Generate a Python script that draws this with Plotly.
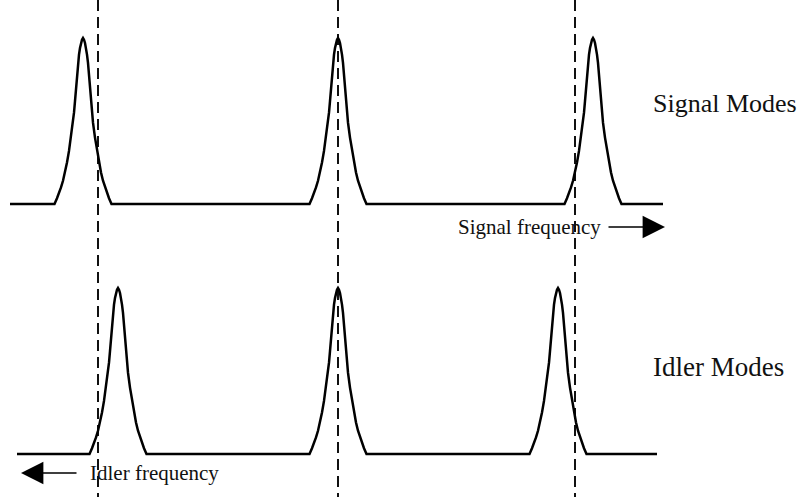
import plotly.graph_objects as go

# Diagram coordinates (x: left->right, y: top->bottom, 811 x 497 canvas)
signal_centers = [83, 338, 593]
idler_centers = [118, 338, 558]
dashed_x = [98, 338, 575]

signal_baseline = 204
idler_baseline = 454
peak_height = 166

signal_span = [10, 663]
idler_span = [17, 657]

# Mode line-shape: (offset from centre, relative height)
profile_offsets = [0, 1, 2, 3, 4, 5, 6, 7, 8, 9, 10, 12, 14, 16, 18, 20, 22, 24, 26, 28.5]
profile_heights = [1.0, 0.99, 0.97, 0.94, 0.9, 0.85, 0.78, 0.7, 0.62, 0.55, 0.49,
                   0.40, 0.32, 0.25, 0.19, 0.14, 0.10, 0.065, 0.035, 0.0]

labels = {"signal": "Signal Modes", "idler": "Idler Modes"}
axis_labels = {"signal": "Signal frequency", "idler": "Idler frequency"}


def comb(centers, baseline, span):
    xs, ys = [span[0]], [baseline]
    for c in centers:
        for d, h in zip(reversed(profile_offsets), reversed(profile_heights)):
            xs.append(c - d); ys.append(baseline - h * peak_height)
        for d, h in zip(profile_offsets[1:], profile_heights[1:]):
            xs.append(c + d); ys.append(baseline - h * peak_height)
    xs.append(span[1]); ys.append(baseline)
    return xs, ys


fig = go.Figure()
for centers, base, span in [(signal_centers, signal_baseline, signal_span),
                            (idler_centers, idler_baseline, idler_span)]:
    xs, ys = comb(centers, base, span)
    fig.add_trace(go.Scatter(x=xs, y=ys, mode="lines",
                             line=dict(color="black", width=2.5, shape="linear"),
                             hoverinfo="skip", showlegend=False))

for x in dashed_x:
    fig.add_shape(type="line", x0=x, x1=x, y0=0, y1=497, xref="x", yref="y",
                  line=dict(color="#111", width=2, dash="11px,6px"), layer="below")

serif = "Liberation Serif, Times New Roman, serif"
fig.add_annotation(x=651, y=103, text=labels["signal"], showarrow=False, xanchor="left",
                   yanchor="middle", font=dict(family=serif, size=26, color="#111"))
fig.add_annotation(x=651, y=367, text=labels["idler"], showarrow=False, xanchor="left",
                   yanchor="middle", font=dict(family=serif, size=27, color="#111"))
fig.add_annotation(x=603, y=227, text=axis_labels["signal"], showarrow=False, xanchor="right",
                   yanchor="middle", font=dict(family=serif, size=21, color="#111"))
fig.add_annotation(x=88, y=473, text=axis_labels["idler"], showarrow=False, xanchor="left",
                   yanchor="middle", font=dict(family=serif, size=21, color="#111"))

# arrows
fig.add_annotation(x=665, y=227, ax=607, ay=227, axref="x", ayref="y", xref="x", yref="y",
                   text="", showarrow=True, arrowhead=2, arrowsize=3.2, arrowwidth=1.4,
                   arrowcolor="black")
fig.add_annotation(x=21, y=473, ax=78, ay=473, axref="x", ayref="y", xref="x", yref="y",
                   text="", showarrow=True, arrowhead=2, arrowsize=3.2, arrowwidth=1.4,
                   arrowcolor="black")

fig.update_layout(
    width=811, height=497, margin=dict(l=0, r=0, t=0, b=0),
    paper_bgcolor="white", plot_bgcolor="white",
    xaxis=dict(range=[0, 811], visible=False, fixedrange=True),
    yaxis=dict(range=[497, 0], visible=False, fixedrange=True),
)
fig.write_html("out.html")
